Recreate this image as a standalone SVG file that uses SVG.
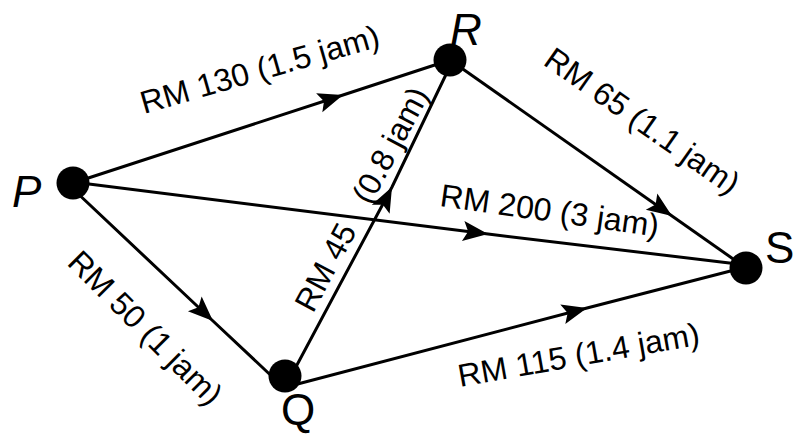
<svg xmlns="http://www.w3.org/2000/svg" width="794" height="434" viewBox="0 0 794 434">
<style>
.edge{fill:none;stroke:#000;stroke-width:3;marker-mid:url(#arr)}
.node{fill:#000}
.lbl{font-family:"Liberation Sans",Arial,sans-serif;font-size:32px;fill:#000}
.nlbl{font-family:"Liberation Sans",Arial,sans-serif;font-size:44px;fill:#000}
</style>
<defs>
<marker id="arr" markerUnits="userSpaceOnUse" markerWidth="28" markerHeight="22" refX="25" refY="10" orient="auto" overflow="visible">
<path d="M0,0 L25,10 L0,20 L5,10 z" fill="#000"/>
</marker>
</defs>
<rect width="794" height="434" fill="#fff"/>
<g id="connectors">
<path id="e-PR" class="edge" d="M73,183 L343,95 L450,60"/>
<path id="e-PS" class="edge" d="M73,182 L488,234 L746,265"/>
<path id="e-PQ" class="edge" d="M73,189 L213,321 L280,384"/>
<path id="e-QR" class="edge" d="M290,378 L392,187 L452,62"/>
<path id="e-RS" class="edge" d="M450,60 L672,216 L746,268"/>
<path id="e-QS" class="edge" d="M290,386 L587,308 L746,267"/>
</g>
<g id="edge-labels">
<text class="lbl" transform="translate(144,114) rotate(-16)">RM 130 (1.5 jam)</text>
<text class="lbl" transform="translate(542,64) rotate(35)">RM 65 (1.1 jam)</text>
<text class="lbl" transform="translate(66,264) rotate(45)">RM 50 (1 jam)</text>
<text class="lbl" transform="translate(313,314) rotate(-62)">RM 45<tspan dx="28">(0.8 jam)</tspan></text>
<text class="lbl" transform="translate(439,206) rotate(8)">RM 200 (3 jam)</text>
<text class="lbl" transform="translate(460,387) rotate(-10)">RM 115 (1.4 jam)</text>
</g>
<g id="node-P"><circle class="node" cx="73" cy="183" r="16.5"/><text class="nlbl" x="12" y="207" font-style="italic">P</text></g>
<g id="node-R"><circle class="node" cx="450" cy="60" r="16.5"/><text class="nlbl" x="450" y="45" font-style="italic">R</text></g>
<g id="node-Q"><circle class="node" cx="285" cy="376" r="16.5"/><text class="nlbl" x="281" y="425" font-size="40">Q</text></g>
<g id="node-S"><circle class="node" cx="746" cy="268" r="16.5"/><text class="nlbl" x="765" y="263" font-size="40">S</text></g>
</svg>
